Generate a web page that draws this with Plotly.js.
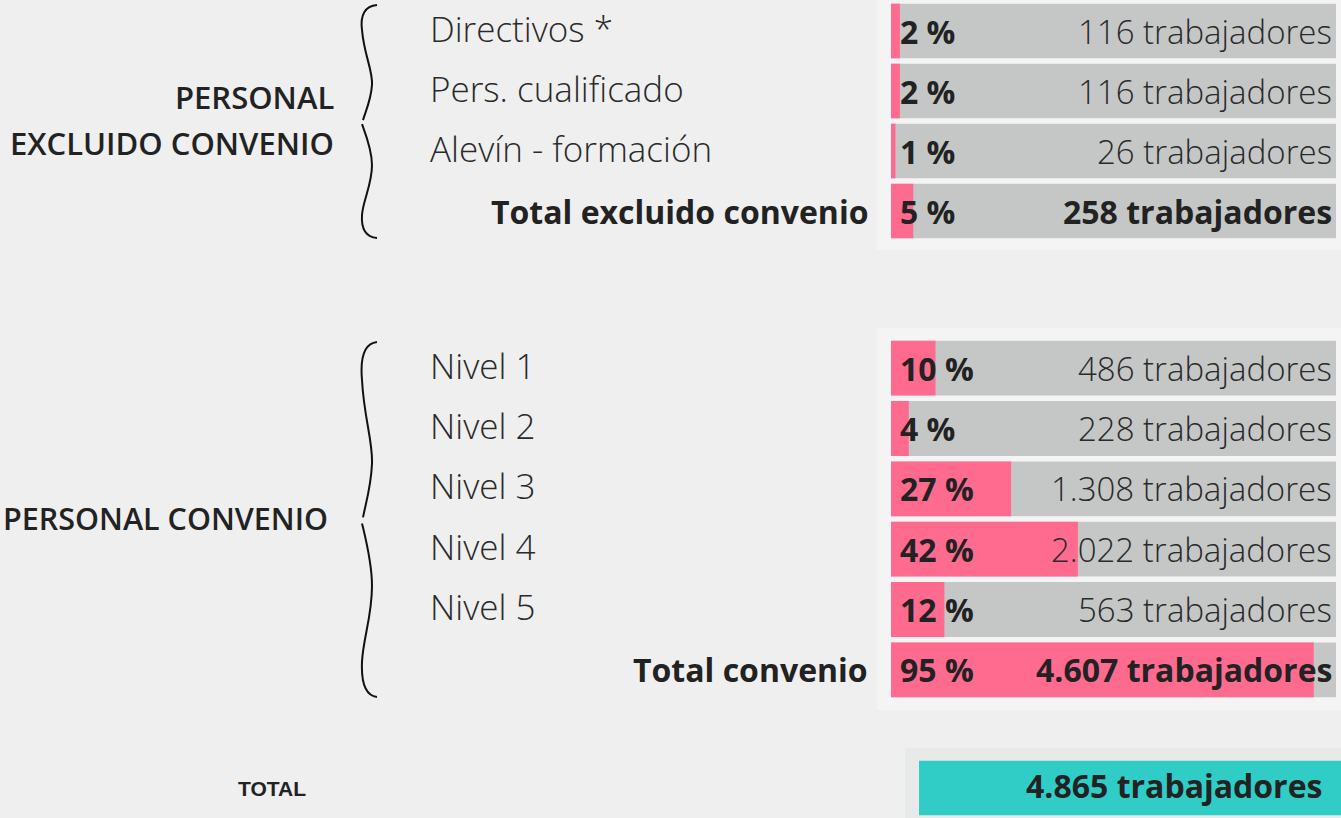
<!DOCTYPE html>
<html>
<head>
<meta charset="utf-8">
<script src="https://cdn.plot.ly/plotly-3.0.1.min.js"></script>
<style>
html,body{margin:0;padding:0;background:#efefef;}
#chart{width:1341px;height:818px;}
</style>
</head>
<body>
<div id="chart"></div>
<script>
// ---------- DATA ----------
const exclCategories = ["Directivos *", "Pers. cualificado", "Alevín - formación", "Total excluido convenio"];
const exclPct = [2, 2, 1, 5];
const exclWorkers = [116, 116, 26, 258];

const convCategories = ["Nivel 1", "Nivel 2", "Nivel 3", "Nivel 4", "Nivel 5", "Total convenio"];
const convPct = [10, 4, 27, 42, 12, 95];
const convWorkers = [486, 228, 1308, 2022, 563, 4607];

const totalCategory = ["TOTAL"];
const totalWorkers = [4865];

const groupLabelLines = [["PERSONAL", "EXCLUIDO CONVENIO"], ["PERSONAL CONVENIO"]];

// ---------- HELPERS ----------
const W = 1341, H = 818;
const fmt = n => String(n).replace(/\B(?=(\d{3})+(?!\d))/g, ".");
const px = x => x / W;
const py = y => 1 - y / H;

const PINK = "#ff6b8f", GRAY = "#c5c7c7", DARK = "#8c8c8c", TEAL = "#2fcdc6", INK = "#222222";
const LABEL = {family: "Open Sans", size: 35, color: "#2a2a2a", weight: 300};
const BOLD = {family: "Open Sans", size: 32, color: INK, weight: 700};
const WORK = {family: "Open Sans", size: 33, color: "#2a2a2a", weight: 300};

const isTotal = c => c.startsWith("Total");
const annotations = [];

function groupTraces(cats, pct, workers, xa, ya, edge) {
  const tr = [];
  tr.push({type: "bar", orientation: "h", y: cats, x: cats.map(() => 100), xaxis: xa, yaxis: ya,
    marker: {color: GRAY}, hoverinfo: "skip", showlegend: false});
  if (edge) {
    tr.push({type: "bar", orientation: "h", y: cats, x: cats.map(() => 1.2), base: cats.map(() => 100),
      xaxis: xa, yaxis: ya, marker: {color: DARK}, hoverinfo: "skip", showlegend: false});
  }
  tr.push({type: "bar", orientation: "h", y: cats, x: pct, xaxis: xa, yaxis: ya,
    marker: {color: PINK}, hoverinfo: "skip", showlegend: false});
  // in-bar texts
  cats.forEach((c, i) => {
    annotations.push({xref: xa, yref: ya, x: 1.65, y: c, xanchor: "left", yanchor: "middle", yshift: 0,
      text: pct[i] + " %", showarrow: false, font: BOLD});
    annotations.push({xref: xa, yref: ya, x: 99.6, y: c, xanchor: "right", yanchor: "middle", yshift: 0,
      text: fmt(workers[i]) + " trabajadores", showarrow: false, font: isTotal(c) ? BOLD : WORK});
  });
  return tr;
}

const data = [
  ...groupTraces(exclCategories, exclPct, exclWorkers, "x", "y", false),
  ...groupTraces(convCategories, convPct, convWorkers, "x", "y2", true),
  {type: "bar", orientation: "h", y: totalCategory, x: totalWorkers, xaxis: "x3", yaxis: "y3",
    marker: {color: TEAL}, hoverinfo: "skip", showlegend: false}
];
totalWorkers.forEach((v, i) => {
  annotations.push({xref: "x3", yref: "y3", x: v * 0.96, y: totalCategory[i], xanchor: "right", yanchor: "middle",
    yshift: 3, text: fmt(v) + " trabajadores", showarrow: false, font: BOLD});
});

// ---------- ROW LABELS ----------
function rowLabels(cats, yref) {
  cats.forEach(c => {
    const tot = isTotal(c);
    annotations.push({xref: "paper", yref: yref, x: tot ? px(870) : px(428), y: c,
      xanchor: tot ? "right" : "left", yanchor: "middle", yshift: tot ? 0 : 3,
      text: c, showarrow: false, font: tot ? BOLD : LABEL});
  });
}
rowLabels(exclCategories, "y");
rowLabels(convCategories, "y2");

const GROUP = {family: "Open Sans", size: 31, color: INK, weight: 600};
annotations.push({xref: "paper", yref: "paper", x: px(336), y: py(97), xanchor: "right", yanchor: "middle",
  text: groupLabelLines[0][0], showarrow: false, font: GROUP});
annotations.push({xref: "paper", yref: "paper", x: px(336), y: py(143), xanchor: "right", yanchor: "middle",
  text: groupLabelLines[0][1], showarrow: false, font: GROUP});
annotations.push({xref: "paper", yref: "paper", x: px(330), y: py(518), xanchor: "right", yanchor: "middle",
  text: groupLabelLines[1][0], showarrow: false, font: {...GROUP, size: 30.5}});
annotations.push({xref: "paper", yref: "y3", x: px(272), y: totalCategory[0], xanchor: "center", yanchor: "middle",
  text: "<b>" + totalCategory[0] + "</b>", showarrow: false,
  font: {family: "Liberation Sans, Arial", size: 21, color: INK}});

// ---------- BRACES ----------
function brace(y0, y1) {
  const h = y1 - y0;
  const P = (x, t) => px(x).toFixed(5) + "," + py(y0 + t * h).toFixed(5);
  return "M" + P(377, 0) + " C" + P(365, 0.004) + " " + P(360, 0.043) + " " + P(362, 0.107) +
    " C" + P(364, 0.215) + " " + P(373, 0.28) + " " + P(372, 0.343) +
    " C" + P(371, 0.408) + " " + P(366, 0.451) + " " + P(363, 0.494) +
    " M" + P(362, 0.511) + " C" + P(366, 0.558) + " " + P(372, 0.622) + " " + P(372, 0.687) +
    " C" + P(372, 0.773) + " " + P(363, 0.837) + " " + P(362, 0.901) +
    " C" + P(361, 0.966) + " " + P(366, 0.996) + " " + P(377, 1);
}
const shapes = [
  {type: "rect", xref: "paper", yref: "paper", x0: px(877), x1: 1, y0: py(250), y1: py(0),
    fillcolor: "#f4f4f4", line: {width: 0}, layer: "below"},
  {type: "rect", xref: "paper", yref: "paper", x0: px(877), x1: 1, y0: py(710), y1: py(328),
    fillcolor: "#f4f4f4", line: {width: 0}, layer: "below"},
  {type: "rect", xref: "paper", yref: "paper", x0: px(905), x1: 1, y0: py(818), y1: py(748),
    fillcolor: "#e8eaea", line: {width: 0}, layer: "below"},
  {type: "path", xref: "paper", yref: "paper", path: brace(5, 238), line: {color: "#111", width: 2}},
  {type: "path", xref: "paper", yref: "paper", path: brace(342, 697), line: {color: "#111", width: 2}}
];

const hidden = {showgrid: false, zeroline: false, showticklabels: false, showline: false, ticks: "", fixedrange: true};

const layout = {
  width: W, height: H,
  margin: {l: 0, r: 0, t: 0, b: 0, pad: 0},
  paper_bgcolor: "#efefef", plot_bgcolor: "rgba(0,0,0,0)",
  barmode: "overlay", bargap: 0.09,
  showlegend: false,
  xaxis: {...hidden, domain: [px(891), px(1336)], range: [0, 100], anchor: "y"},
  xaxis3: {...hidden, domain: [px(919), 1], range: [0, totalWorkers[0]], anchor: "y3"},
  yaxis: {...hidden, domain: [py(241), py(1)], type: "category", categoryorder: "array",
    categoryarray: exclCategories, range: [3.5, -0.5], anchor: "x"},
  yaxis2: {...hidden, domain: [py(700), py(338)], type: "category", categoryorder: "array",
    categoryarray: convCategories, range: [5.5, -0.5], anchor: "x"},
  yaxis3: {...hidden, domain: [0, py(758)], type: "category", range: [0.5, -0.5], anchor: "x3"},
  annotations: annotations,
  shapes: shapes
};

Plotly.newPlot("chart", data, layout, {displayModeBar: false, staticPlot: true});
</script>
</body>
</html>
